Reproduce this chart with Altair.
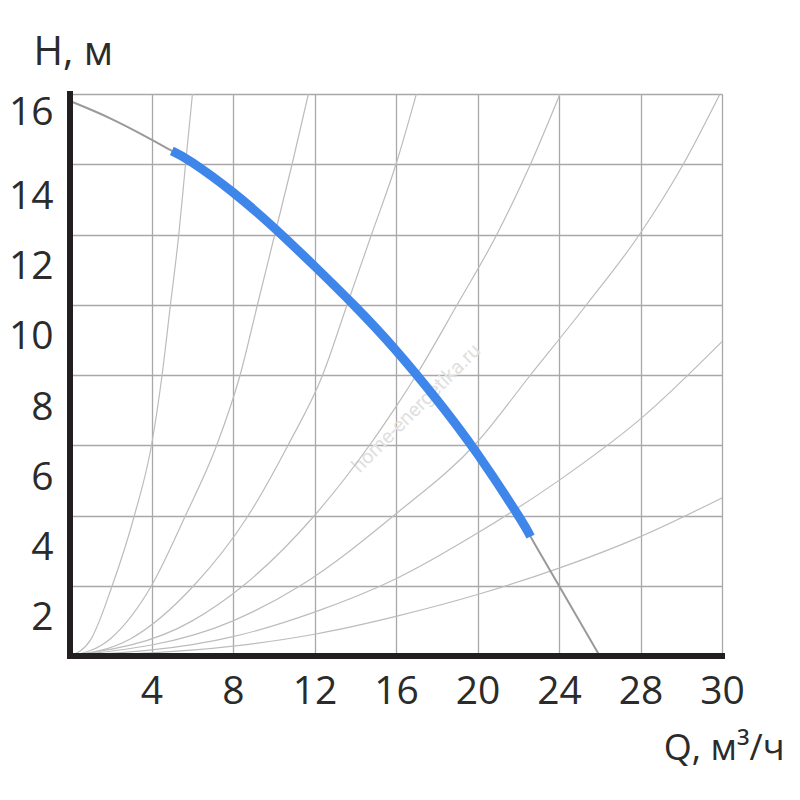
import altair as alt
import pandas as pd
import json

# ---- pump curve ----
pump_q = [0, 2, 4, 5, 6, 8, 10, 12, 14, 16, 18, 20, 22, 22.6, 24, 26]
pump_h = [15.8, 15.3, 14.7, 14.38, 14.05, 13.2, 12.2, 11.1, 9.95, 8.7, 7.3, 5.75, 4.0, 3.4, 2.0, 0.0]
work_q_min = 5
work_q_max = 22.6

# ---- system curves ----
c1_q = [0, 1, 2.07, 3.16, 4.0, 4.52, 4.93, 5.34, 5.67, 6.01]
c1_h = [0, 0.45, 2, 4, 6, 8, 10, 12, 14, 16]
c2_q = [0, 2, 4, 5.67, 7.2, 8.35, 9.2, 10.05, 10.9, 11.7]
c2_h = [0, 0.5, 2, 4, 6, 8, 10, 12, 14, 16]
c3_q = [0, 3, 6.07, 8.75, 10.7, 12.4, 13.6, 14.8, 16.0, 17.0]
c3_h = [0, 0.5, 2, 4, 6, 8, 10, 12, 14, 16]
c4_q = [0, 6, 8.5, 12, 14.7, 16, 17, 19, 20.95, 22.6, 24.05]
c4_h = [0, 1.0, 2, 4, 6, 7.1, 8, 10, 12, 14, 16]
c5_q = [0, 8, 11.3, 16, 20, 22.6, 25.35, 27.95, 30.1, 31.9]
c5_h = [0, 1.0, 2, 4.05, 6.1, 8, 10, 12, 14, 16]
c6_q = [0, 8, 12, 16, 20, 24, 28, 32]
c6_h = [0, 0.55, 1.25, 2.2, 3.5, 5.0, 6.75, 8.95]
c7_q = [0, 8, 12, 16, 20, 24, 28, 32]
c7_h = [0, 0.28, 0.62, 1.13, 1.75, 2.5, 3.4, 4.5]

# ---- axes ----
x_ticks = [0, 4, 8, 12, 16, 20, 24, 28, 32]
x_labels = ["", "4", "8", "12", "16", "20", "24", "28", "30"]
y_ticks = [0, 2, 4, 6, 8, 10, 12, 14, 16]
y_labels = ["", "2", "4", "6", "8", "10", "12", "14", "16"]
x_domain = [0, 32]
y_domain = [0, 16]
x_title = "Q, м³/ч"
y_title = "H, м"

# axis frame (L-shape along the axis domain)
frame_q = [0, 0, 32]
frame_h = [16, 0, 0]

watermark = "home-energetika.ru"
watermark_q = [17.0]
watermark_h = [7.05]

FONT = "Open Sans"
TXT = "#2b2b2b"

curves = []
for name, qs, hs in [("c1", c1_q, c1_h), ("c2", c2_q, c2_h), ("c3", c3_q, c3_h),
                     ("c4", c4_q, c4_h), ("c5", c5_q, c5_h), ("c6", c6_q, c6_h),
                     ("c7", c7_q, c7_h)]:
    for q, h in zip(qs, hs):
        curves.append({"series": name, "Q": q, "H": h})
sys_df = pd.DataFrame(curves)

pump_df = pd.DataFrame({"Q": pump_q, "H": pump_h})
work_df = pump_df[(pump_df.Q >= work_q_min) & (pump_df.Q <= work_q_max)]
frame_df = pd.DataFrame({"Q": frame_q, "H": frame_h, "i": list(range(len(frame_q)))})
wm_df = pd.DataFrame({"Q": watermark_q, "H": watermark_h, "t": [watermark]})

x_expr = json.dumps(x_labels) + "[indexof(" + json.dumps(x_ticks) + ", datum.value)]"
y_expr = json.dumps(y_labels) + "[indexof(" + json.dumps(y_ticks) + ", datum.value)]"

x_axis = alt.Axis(
    values=x_ticks, labelExpr=x_expr, grid=True, domain=False, ticks=False, tickSize=0,
    gridColor="#a8a8a8", gridWidth=1.3,
    labelFont=FONT, labelFontSize=39, labelColor=TXT, labelPadding=16,
    labelAlign="center", labelBaseline="top", labelFlush=False, labelOverlap=False,
    title=x_title, titleFont=FONT, titleFontSize=36, titleFontWeight="normal",
    titleColor=TXT, titleAngle=0, titleAlign="right", titleBaseline="alphabetic",
    titleX=714, titleY=103,
)
y_axis = alt.Axis(
    values=y_ticks, labelExpr=y_expr, grid=True, domain=False, ticks=False, tickSize=0,
    gridColor="#a8a8a8", gridWidth=1.3,
    labelFont=FONT, labelFontSize=39, labelColor=TXT, labelPadding=17,
    labelAlign="right", labelBaseline="middle", labelFlush=False, labelOverlap=False,
    labelOffset={"condition": {"test": "datum.value == 16", "value": 18}, "value": 32},
    title=y_title, titleFont=FONT, titleFontSize=40, titleFontWeight="normal",
    titleColor=TXT, titleAngle=0, titleAlign="left", titleBaseline="alphabetic",
    titleX=-37, titleY=-30,
)

X = alt.X("Q:Q", scale=alt.Scale(domain=x_domain, nice=False, zero=True), axis=x_axis)
Y = alt.Y("H:Q", scale=alt.Scale(domain=y_domain, nice=False, zero=True), axis=y_axis)

wm = alt.Chart(wm_df).mark_text(
    font="Roboto", fontSize=20, color="#e0e0e0", angle=315, align="center", baseline="middle"
).encode(x=X, y=Y, text="t:N")

sys_layer = alt.Chart(sys_df).mark_line(
    color="#bcbcbc", strokeWidth=1.2, interpolate="monotone"
).encode(x=X, y=Y, detail="series:N")

pump_layer = alt.Chart(pump_df).mark_line(
    color="#9a9a9a", strokeWidth=2, interpolate="natural"
).encode(x=X, y=Y)

work_layer = alt.Chart(work_df).mark_line(
    color="#3f86ea", strokeWidth=9, strokeCap="butt", interpolate="natural"
).encode(x=X, y=Y)

frame_layer = alt.Chart(frame_df).mark_line(
    color="#231f20", strokeWidth=6, strokeCap="square", strokeJoin="miter"
).encode(x=X, y=Y, order="i:Q")

chart = alt.layer(wm, sys_layer, pump_layer, work_layer, frame_layer).properties(
    width=652, height=562,
    padding={"left": 62, "top": 86, "right": 70, "bottom": 136},
    autosize=alt.AutoSizeParams(type="none"),
    background="white",
).configure_view(stroke=None)

chart.save("out.html", embed_options={"renderer": "svg", "actions": False})
